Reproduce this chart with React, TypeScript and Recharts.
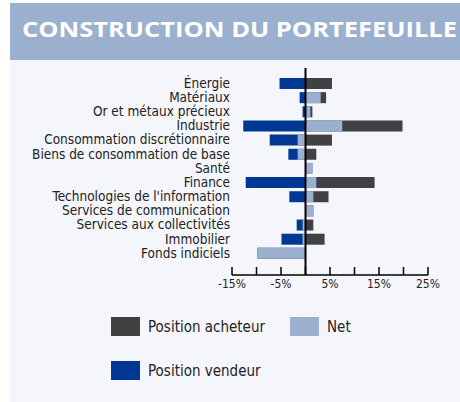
import React from "react";
import { BarChart, Bar, XAxis, YAxis, ReferenceLine } from "recharts";

const categories = [
  "Énergie",
  "Matériaux",
  "Or et métaux précieux",
  "Industrie",
  "Consommation discrétionnaire",
  "Biens de consommation de base",
  "Santé",
  "Finance",
  "Technologies de l'information",
  "Services de communication",
  "Services aux collectivités",
  "Immobilier",
  "Fonds indiciels",
];
const acheteur = [5.4, 4.2, 1.4, 19.8, 5.4, 2.2, 1.4, 14.1, 4.7, 1.6, 1.6, 3.9, 0];
const vendeur = [-5.3, -1.2, -0.6, -12.7, -7.3, -3.5, 0, -12.2, -3.3, 0, -1.8, -4.9, -9.8];
const net = [0, 3.1, 1.0, 7.5, -1.6, -1.6, 1.4, 2.2, 1.6, 1.6, -0.6, -0.6, -9.8];
const xTicks = [-15, -10, -5, 0, 5, 10, 15, 20, 25];
const tickLabels = ["-15%", "-5%", "5%", "15%", "25%"];

const COLORS = { acheteur: "#414143", net: "#9AB0CE", vendeur: "#003893" };
const FONT = "'Liberation Sans Narrow', 'DejaVu Sans Condensed', sans-serif";

const data = categories.map((name, i) => ({
  name,
  acheteur: acheteur[i],
  vendeur: vendeur[i],
  net: net[i],
}));

function XTick(props: any) {
  const { x, y, payload } = props;
  const label = `${payload.value}%`;
  return (
    <g>
      <line x1={x} x2={x} y1={y} y2={y - 8} stroke="#000" strokeWidth={1.5} />
      {tickLabels.includes(label) && (
        <text x={x} y={y + 13} textAnchor="middle" fontSize={12} fontFamily={FONT} fill="#222">
          {label}
        </text>
      )}
    </g>
  );
}

function LegendItem({ color, label, left, top }: { color: string; label: string; left: number; top: number }) {
  return (
    <div style={{ position: "absolute", left, top, display: "flex", alignItems: "center" }}>
      <div style={{ width: 29, height: 19, background: color }} />
      <span style={{ marginLeft: 8, fontFamily: FONT, fontSize: 15, color: "#222" }}>{label}</span>
    </div>
  );
}

export default function App() {
  return (
    <div style={{ position: "absolute", left: 0, top: 0, width: 460, height: 402, background: "#fff", overflow: "hidden" }}>
      <div style={{ position: "absolute", left: 10, top: 3, width: 450, height: 399, background: "#F5F6FB" }} />
      <div style={{ position: "absolute", left: 10, top: 3, width: 450, height: 57, background: "#9AB0CE" }} />
      <svg style={{ position: "absolute", left: 0, top: 0 }} width={460} height={60}>
        <text
          x={22}
          y={37}
          fontSize={22}
          fontWeight="bold"
          fontFamily="'Open Sans', sans-serif"
          fill="#fff"
          textLength={435}
          lengthAdjust="spacingAndGlyphs"
        >
          CONSTRUCTION DU PORTEFEUILLE
        </text>
      </svg>
      <div style={{ position: "absolute", left: 0, top: 0 }}>
        <BarChart
          width={460}
          height={300}
          data={data}
          layout="vertical"
          margin={{ top: 68, right: 32, bottom: 0, left: 0 }}
          barSize={11}
          barGap={-11}
        >
          <XAxis
            type="number"
            domain={[-15, 25]}
            ticks={xTicks}
            interval={0}
            height={25}
            tickSize={0}
            tickMargin={0}
            tickLine={false}
            axisLine={{ stroke: "#000", strokeWidth: 1.5 }}
            tick={<XTick />}
          />
          <YAxis
            type="category"
            dataKey="name"
            width={232}
            axisLine={false}
            tickLine={false}
            tickSize={0}
            tickMargin={2}
            interval={0}
            padding={{ top: 8, bottom: 15 }}
            tick={{ fontSize: 13.5, fontFamily: FONT, fill: "#222" }}
          />
          <Bar dataKey="acheteur" fill={COLORS.acheteur} isAnimationActive={false} />
          <Bar dataKey="vendeur" fill={COLORS.vendeur} isAnimationActive={false} />
          <Bar dataKey="net" fill={COLORS.net} isAnimationActive={false} />
          <ReferenceLine x={0} stroke="#000" strokeWidth={2} />
        </BarChart>
      </div>
      <LegendItem color={COLORS.acheteur} label="Position acheteur" left={111} top={317} />
      <LegendItem color={COLORS.net} label="Net" left={290} top={317} />
      <LegendItem color={COLORS.vendeur} label="Position vendeur" left={111} top={361} />
    </div>
  );
}
